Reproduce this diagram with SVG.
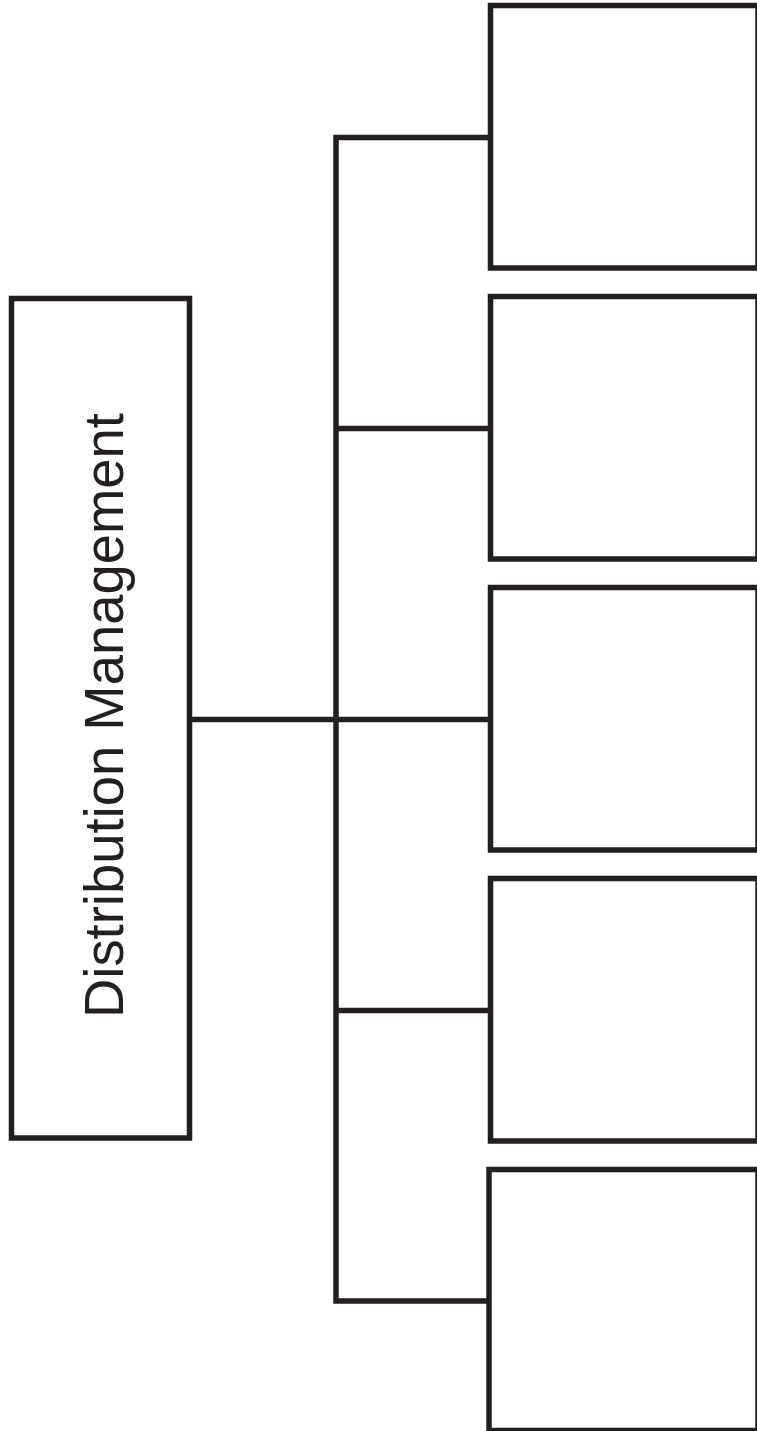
<svg xmlns="http://www.w3.org/2000/svg" width="757" height="1431" viewBox="0 0 757 1431">
<style>
.box{fill:#ffffff;stroke:#231f20;stroke-width:5.5}
.conn{fill:none;stroke:#231f20;stroke-width:5.5;stroke-linejoin:miter}
.lbl{font-family:"Liberation Sans","Open Sans",Arial,sans-serif;font-size:56px;fill:#231f20}
</style>
<rect width="757" height="1431" fill="#ffffff"/>
<g id="connectors">
<path class="conn" d="M490 137.5 H336 V1301 H490"/>
<path class="conn" d="M336 428.5 H490"/>
<path class="conn" d="M189.5 719.5 H490"/>
<path class="conn" d="M336 1010.5 H490"/>
</g>
<g id="node-root">
<rect class="box" x="11.5" y="298.5" width="178" height="839.5"/>
<text class="lbl" transform="translate(123,715.5) rotate(-90)" text-anchor="middle" textLength="605" lengthAdjust="spacingAndGlyphs">Distribution Management</text>
</g>
<g id="node-1"><rect class="box" x="490.5" y="5.5" width="267.5" height="262.5"/></g>
<g id="node-2"><rect class="box" x="490.5" y="296.5" width="267.5" height="262.5"/></g>
<g id="node-3"><rect class="box" x="490.5" y="587.5" width="267.5" height="262.5"/></g>
<g id="node-4"><rect class="box" x="490.5" y="878.5" width="267.5" height="262.5"/></g>
<g id="node-5"><rect class="box" x="489" y="1169.5" width="269" height="261"/></g>
</svg>
